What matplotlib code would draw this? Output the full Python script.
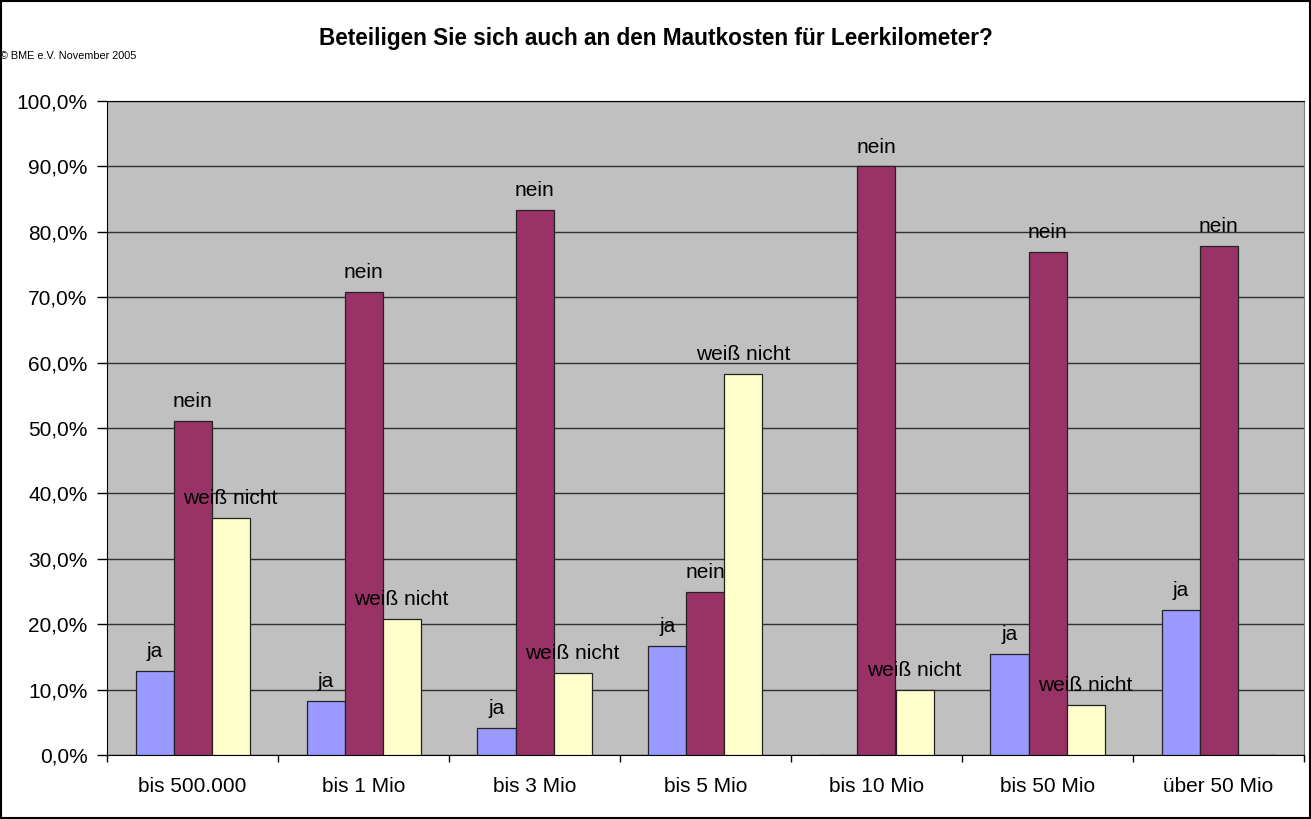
import numpy as np
import matplotlib.pyplot as plt
from matplotlib.ticker import FuncFormatter

plt.rcParams['font.family'] = ['Liberation Sans', 'DejaVu Sans']

# data (percent)
categories = ['bis 500.000', 'bis 1 Mio', 'bis 3 Mio', 'bis 5 Mio',
              'bis 10 Mio', 'bis 50 Mio', 'über 50 Mio']
ja = [12.8, 8.3, 4.2, 16.7, np.nan, 15.4, 22.2]
nein = [51.1, 70.8, 83.3, 25.0, 90.0, 76.9, 77.8]
weiss_nicht = [36.2, 20.8, 12.5, 58.3, 10.0, 7.7, np.nan]

series = [('ja', ja, '#9999FF'),
          ('nein', nein, '#993366'),
          ('weiß nicht', weiss_nicht, '#FFFFCC')]

fig = plt.figure(figsize=(13.11, 8.19), dpi=100)
ax = fig.add_axes([107 / 1311, 64 / 819, 1197 / 1311, 654 / 819])
ax.set_facecolor('#C0C0C0')

x = np.arange(len(categories))
w = 1 / 4.5  # excel gap width 150%
for i, (name, vals, color) in enumerate(series):
    vals = np.array(vals, dtype=float)
    pos = x + (i - 1) * w
    ax.bar(pos, np.nan_to_num(vals), width=w, color=color,
           edgecolor='#222222', linewidth=0.9, zorder=3)
    # label above each bar with the series name
    for px, v in zip(pos, vals):
        if np.isnan(v):
            continue
        ax.annotate(name, (px, v), xytext=(0, 10), textcoords='offset points',
                    ha='center', va='baseline', fontsize=15, zorder=4)

ax.set_xlim(-0.5, len(categories) - 0.5)
ax.set_ylim(0, 100)

# y axis
ax.set_yticks(np.arange(0, 101, 10))
ax.yaxis.set_major_formatter(FuncFormatter(lambda v, p: f'{v:.1f}%'.replace('.', ',')))
ax.yaxis.grid(True, color='#303030', linewidth=1.0, zorder=0)
ax.tick_params(axis='y', length=7, width=1, pad=7, labelsize=15)

# x axis: ticks at boundaries, labels at centres
ax.set_xticks(np.arange(-0.5, len(categories), 1))
ax.set_xticklabels([])
ax.set_xticks(x, minor=True)
ax.set_xticklabels(categories, minor=True)
ax.tick_params(axis='x', which='major', length=5, width=1)
ax.tick_params(axis='x', which='minor', length=0, pad=16, labelsize=15)

for s in ['left', 'bottom', 'top']:
    ax.spines[s].set_color('black')
ax.spines['right'].set_color('#808080')

fig.text(0.5, 1 - 38 / 819, 'Beteiligen Sie sich auch an den Mautkosten für Leerkilometer?',
         ha='center', va='center', fontsize=16.3, fontweight='bold')
fig.text(0.0, 1 - 56 / 819, '© BME e.V. November 2005', ha='left', va='center', fontsize=7.8)

# outer border
fig.patches.append(plt.Rectangle((0.0005, 0.0008), 0.999, 0.9985, transform=fig.transFigure,
                                 fill=False, edgecolor='black', linewidth=1.5))

fig.savefig('out.png', dpi=100)
